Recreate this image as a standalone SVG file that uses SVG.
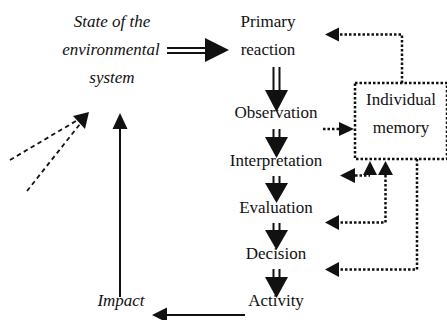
<svg xmlns="http://www.w3.org/2000/svg" width="447" height="320" viewBox="0 0 447 320" font-family="'Liberation Serif', 'Times New Roman', 'DejaVu Serif', serif">
<style>
text{font-family:'Liberation Serif','Times New Roman','DejaVu Serif',serif;font-size:17px;fill:#111;text-anchor:middle}
.it{font-style:italic}
.dot{fill:none;stroke:#111;stroke-width:2.5;stroke-dasharray:2.5 2}
.sol{fill:none;stroke:#111;stroke-width:2}
.dash{fill:none;stroke:#111;stroke-width:1.8;stroke-dasharray:4.5 3.5}
.dl{fill:none;stroke:#111;stroke-width:2}
.ah{fill:#111;stroke:none}
</style>
<rect width="447" height="320" fill="#fff"/>
<g id="state"><text class="it" x="112" y="27">State of the</text><text class="it" x="111" y="55">environmental</text><text class="it" x="112" y="83">system</text></g>
<g id="primary"><text x="268" y="27">Primary</text><text x="268" y="55">reaction</text></g>
<g id="observation"><text x="276" y="118">Observation</text></g>
<g id="interpretation"><text x="276" y="166">Interpretation</text></g>
<g id="evaluation"><text x="276" y="213">Evaluation</text></g>
<g id="decision"><text x="276" y="259">Decision</text></g>
<g id="activity"><text x="276" y="306">Activity</text></g>
<g id="impact"><text class="it" x="121" y="306">Impact</text></g>
<g id="memory"><rect class="dot" x="355" y="83" width="92" height="76"/><text x="401" y="105">Individual</text><text x="401" y="133">memory</text></g>
<g id="connectors">
<path class="dl" d="M167,48H206M167,53H206"/><path class="ah" d="M205,38L229,50L205,62Z"/>
<path class="dl" d="M273.5,67V91M279.5,67V91"/><path class="ah" d="M265,90H288L276.5,112Z"/>
<path class="dl" d="M273.5,129V138M279.5,129V138"/><path class="ah" d="M265,137H288L276.5,158Z"/>
<path class="dl" d="M273.5,176V184M279.5,176V184"/><path class="ah" d="M265,183H288L276.5,203Z"/>
<path class="dl" d="M273.5,223V231M279.5,223V231"/><path class="ah" d="M265,230H288L276.5,250Z"/>
<path class="dl" d="M273.5,269V278M279.5,269V278"/><path class="ah" d="M265,277H288L276.5,298Z"/>
<path class="dot" d="M402,83V34.5H339"/><path class="ah" d="M325,34.5L339,27.5V41.5Z"/>
<path class="dot" d="M323,129H340"/><path class="ah" d="M354,129L339,122V136Z"/>
<path class="dot" d="M355,175.5H370"/><path class="ah" d="M340,175.5L355,168V183Z"/><path class="ah" d="M363,175H377L370,161Z"/>
<path class="dot" d="M385.5,175V222.5H339"/><path class="ah" d="M325,222.5L339,215V230Z"/><path class="ah" d="M378,175H393L385.5,161Z"/>
<path class="dot" d="M417,159V269.5H339"/><path class="ah" d="M325,269.5L339,262V277Z"/>
<path class="sol" d="M120,297V128"/><path class="ah" d="M112.5,129H127.5L120,113Z"/>
<path class="sol" d="M245,315H166" stroke-width="2.5"/><path class="ah" d="M152,315L167,307.5V322.5Z"/>
<path class="dash" d="M10,160L76,121M27,191L80,124"/><path class="ah" d="M73,116L89,112L85,129Z"/>
</g>
</svg>
